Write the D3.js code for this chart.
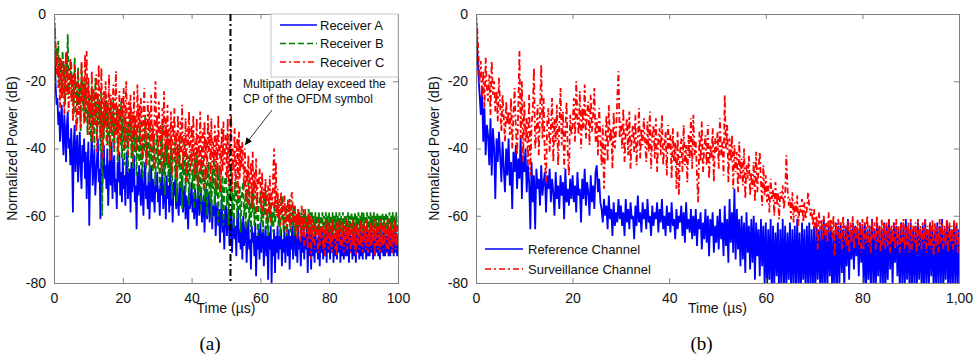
<!DOCTYPE html>
<html><head><meta charset="utf-8">
<script src="https://cdn.jsdelivr.net/npm/d3@7"></script>
<style>
html,body{margin:0;padding:0;background:#fff;}
svg{display:block;font-family:"Liberation Sans",Arial,sans-serif;}
</style></head>
<body><svg id="chart" width="975" height="354"></svg>
<script>
// ---------- DATA (sampled every 0.25 µs, 0..100 µs) ----------
const timeStep = 0.25;
const xTicks = [0, 20, 40, 60, 80, 100];
const yTicks = [0, -20, -40, -60, -80];
const xTickLabelsA = ["0", "20", "40", "60", "80", "100"];
const xTickLabelsB = ["0", "20", "40", "60", "80", "1,00"];
const cpLimit = 51.3;

const receiverA = [
 0,-14,-22,-27,-25,-33,-29,-38,-31,-27,-36,-42,-30,-35,-44,-33,-29,-40,-37,-45,
 -34,-42,-59,-38,-33,-47,-40,-36,-50,-43,-35,-46,-52,-39,-44,-37,-49,-41,-55,-45,
 -38,-63,-47,-42,-36,-51,-45,-40,-54,-48,-43,-37,-50,-46,-61,-41,-53,-44,-39,-49,
 -45,-52,-40,-57,-47,-43,-51,-38,-55,-46,-42,-53,-49,-58,-44,-50,-41,-54,-47,-56,
 -43,-52,-48,-57,-45,-41,-55,-50,-46,-59,-44,-53,-49,-42,-56,-51,-64,-47,-54,-45,
 -50,-57,-46,-53,-60,-48,-44,-55,-51,-58,-47,-61,-52,-45,-56,-49,-54,-59,-48,-53,
 -47,-56,-52,-60,-49,-54,-46,-58,-53,-50,-61,-48,-55,-51,-59,-47,-57,-53,-62,-50,
 -54,-49,-58,-52,-56,-60,-50,-57,-53,-48,-59,-55,-51,-61,-54,-57,-64,-52,-58,-55,
 -50,-59,-54,-61,-52,-57,-63,-55,-51,-60,-56,-53,-62,-58,-54,-65,-57,-52,-61,-56,
 -53,-62,-58,-55,-64,-57,-60,-54,-66,-59,-56,-63,-58,-68,-60,-55,-65,-61,-70,-58,
 -57,-66,-61,-58,-69,-62,-59,-71,-64,-60,-67,-63,-72,-61,-58,-68,-64,-70,-62,-73,
 -60,-69,-65,-62,-74,-66,-61,-70,-67,-76,-63,-68,-65,-72,-62,-78,-66,-70,-64,-73,
 -62,-71,-67,-64,-75,-68,-63,-72,-66,-79,-65,-70,-63,-80,-67,-72,-64,-77,-66,-71,
 -63,-73,-66,-70,-64,-75,-67,-71,-63,-74,-68,-65,-72,-64,-76,-66,-70,-63,-73,-67,
 -64,-72,-66,-74,-63,-70,-67,-75,-64,-71,-65,-73,-66,-70,-63,-77,-65,-72,-64,-76,
 -63,-72,-66,-74,-64,-71,-67,-73,-63,-75,-65,-71,-64,-73,-66,-72,-63,-74,-65,-71,
 -64,-73,-65,-71,-63,-74,-66,-72,-64,-73,-65,-71,-63,-74,-66,-72,-64,-73,-65,-72,
 -63,-72,-65,-74,-64,-71,-66,-73,-63,-72,-65,-74,-64,-71,-66,-73,-63,-72,-65,-73,
 -64,-71,-65,-73,-63,-72,-66,-72,-64,-71,-65,-73,-64,-72,-66,-71,-63,-72,-65,-73,
 -64,-71,-65,-72,-64,-72,-66,-71,-64,-72,-65,-72,-63,-71,-65,-72,-64,-71,-65,-72,
 -66];
const receiverB = [
 0,-6,-14,-10,-18,-8,-22,-13,-17,-25,-11,-20,-15,-27,-12,-19,-6,-24,-16,-21,
 -14,-26,-18,-30,-13,-23,-20,-33,-16,-27,-21,-35,-15,-25,-29,-19,-32,-22,-28,-36,
 -20,-31,-25,-38,-22,-34,-28,-40,-19,-30,-36,-24,-33,-27,-41,-23,-60,-29,-37,-26,
 -32,-24,-39,-29,-35,-42,-27,-33,-38,-25,-41,-31,-36,-28,-44,-34,-30,-39,-26,-43,
 -31,-37,-45,-29,-40,-34,-47,-32,-38,-28,-43,-36,-46,-30,-41,-35,-48,-33,-39,-44,
 -32,-45,-37,-49,-34,-41,-30,-46,-38,-43,-35,-50,-33,-44,-39,-47,-36,-42,-51,-37,
 -35,-46,-40,-52,-37,-43,-33,-48,-41,-54,-38,-45,-36,-50,-42,-47,-39,-55,-44,-40,
 -38,-49,-43,-56,-40,-46,-37,-52,-44,-58,-41,-48,-39,-53,-45,-50,-42,-57,-47,-43,
 -41,-52,-46,-58,-43,-49,-40,-55,-47,-53,-44,-59,-42,-50,-48,-56,-45,-51,-60,-46,
 -44,-55,-49,-61,-46,-52,-43,-57,-50,-54,-47,-62,-45,-53,-51,-58,-48,-63,-52,-49,
 -47,-57,-52,-63,-49,-55,-46,-60,-53,-64,-50,-56,-48,-61,-54,-58,-51,-65,-55,-52,
 -50,-60,-55,-64,-52,-58,-49,-62,-56,-65,-53,-59,-51,-63,-57,-61,-54,-66,-58,-55,
 -53,-62,-57,-65,-54,-60,-52,-64,-58,-66,-55,-61,-53,-63,-59,-65,-56,-62,-60,-57,
 -55,-63,-59,-66,-56,-61,-54,-65,-60,-64,-57,-66,-58,-62,-55,-65,-59,-63,-57,-66,
 -57,-64,-60,-66,-58,-63,-59,-65,-60,-64,-58,-66,-59,-63,-60,-65,-58,-64,-59,-66,
 -59,-65,-60,-66,-59,-64,-60,-65,-59,-66,-60,-64,-59,-65,-60,-66,-59,-64,-60,-65,
 -59,-65,-60,-66,-59,-64,-60,-65,-59,-66,-60,-64,-59,-65,-60,-66,-59,-64,-60,-65,
 -60,-65,-59,-66,-60,-64,-59,-65,-60,-66,-59,-64,-60,-65,-59,-66,-60,-64,-59,-65,
 -59,-66,-60,-64,-59,-65,-60,-66,-59,-64,-60,-65,-59,-66,-60,-64,-59,-65,-60,-66,
 -60,-64,-59,-65,-60,-66,-59,-64,-60,-65,-59,-66,-60,-64,-59,-65,-60,-66,-59,-65,
 -62];
const receiverC = [
 0,-4,-10,-18,-12,-22,-15,-28,-13,-20,-25,-14,-30,-18,-11,-24,-16,-29,-21,-13,
 -26,-18,-32,-22,-15,-28,-35,-20,-17,-30,-24,-34,-14,-26,-21,-33,-12,-27,-11,-31,
 -19,-36,-24,-30,-17,-38,-22,-28,-33,-18,-41,-25,-15,-31,-37,-16,-29,-43,-23,-34,
 -20,-39,-26,-32,-18,-44,-24,-35,-28,-21,-40,-30,-17,-36,-27,-42,-23,-33,-38,-25,
 -31,-22,-40,-28,-20,-35,-42,-26,-33,-24,-38,-29,-44,-23,-36,-30,-41,-21,-34,-27,
 -39,-25,-32,-43,-28,-22,-37,-31,-45,-26,-35,-29,-41,-24,-38,-33,-46,-27,-20,-36,
 -30,-42,-26,-38,-33,-47,-28,-36,-23,-44,-31,-39,-27,-45,-34,-40,-29,-48,-32,-37,
 -28,-43,-35,-49,-30,-38,-45,-32,-41,-27,-46,-36,-42,-31,-50,-34,-39,-29,-47,-37,
 -33,-44,-30,-48,-38,-42,-31,-51,-36,-45,-29,-47,-40,-34,-52,-32,-43,-37,-49,-30,
 -41,-35,-50,-31,-46,-38,-44,-33,-52,-36,-48,-30,-42,-39,-53,-34,-47,-32,-45,-40,
 -36,-49,-31,-51,-38,-44,-30,-53,-40,-47,-34,-52,-42,-37,-55,-35,-49,-39,-46,-38,
 -44,-52,-40,-56,-46,-50,-42,-57,-48,-44,-58,-41,-53,-47,-55,-43,-59,-49,-51,-46,
 -50,-58,-47,-60,-52,-55,-49,-61,-54,-51,-59,-48,-62,-53,-57,-46,-40,-58,-44,-60,
 -52,-61,-55,-63,-53,-59,-56,-64,-54,-60,-57,-65,-55,-62,-58,-64,-54,-53,-61,-63,
 -57,-65,-59,-67,-58,-63,-60,-68,-57,-66,-61,-69,-58,-64,-62,-70,-59,-67,-60,-73,
 -61,-68,-63,-70,-62,-66,-64,-71,-61,-69,-63,-67,-62,-70,-64,-72,-61,-68,-63,-70,
 -62,-69,-63,-71,-61,-67,-64,-70,-62,-72,-63,-68,-61,-70,-64,-69,-62,-71,-63,-68,
 -61,-70,-63,-68,-62,-71,-64,-69,-61,-70,-63,-72,-62,-68,-64,-70,-61,-69,-63,-71,
 -62,-68,-63,-70,-61,-71,-64,-69,-62,-70,-63,-68,-61,-72,-64,-69,-62,-70,-63,-71,
 -61,-69,-63,-70,-62,-68,-64,-71,-61,-70,-63,-69,-62,-71,-64,-68,-61,-70,-63,-69,
 -65];
const referenceChannel = [
 0,-10,-18,-24,-30,-22,-38,-28,-42,-33,-36,-45,-31,-48,-34,-40,-55,-37,-44,-35,
 -42,-50,-38,-46,-53,-40,-48,-37,-51,-44,-58,-41,-47,-39,-52,-43,-49,-36,-55,-42,
 -47,-40,-53,-45,-50,-64,-44,-56,-48,-64,-46,-52,-49,-57,-45,-54,-50,-47,-59,-48,
 -52,-46,-56,-49,-53,-60,-47,-55,-51,-58,-48,-54,-50,-61,-46,-56,-52,-57,-49,-55,
 -48,-56,-51,-59,-47,-54,-52,-62,-49,-55,-46,-57,-50,-53,-60,-48,-56,-51,-58,-47,
 -45,-53,-49,-56,-58,-62,-55,-60,-57,-64,-54,-61,-58,-66,-56,-63,-59,-62,-55,-61,
 -57,-63,-59,-66,-55,-62,-58,-64,-56,-61,-60,-67,-57,-63,-54,-62,-59,-65,-56,-61,
 -58,-64,-55,-62,-60,-66,-57,-63,-59,-61,-56,-65,-58,-62,-55,-64,-60,-66,-57,-63,
 -59,-65,-56,-63,-61,-67,-58,-64,-60,-62,-57,-66,-59,-68,-56,-64,-61,-65,-58,-67,
 -60,-66,-58,-69,-61,-64,-59,-70,-62,-67,-58,-68,-60,-72,-61,-66,-59,-71,-63,-68,
 -60,-70,-58,-67,-62,-72,-57,-69,-61,-74,-55,-68,-59,-71,-52,-73,-58,-70,-61,-75,
 -60,-73,-62,-77,-59,-71,-63,-76,-61,-74,-60,-79,-62,-72,-64,-78,-61,-75,-63,-80,
 -62,-83,-64,-79,-61,-84,-63,-81,-65,-78,-62,-85,-64,-80,-61,-83,-63,-82,-65,-79,
 -62,-84,-64,-80,-63,-83,-61,-81,-65,-85,-62,-79,-64,-84,-63,-80,-62,-83,-64,-81,
 -63,-84,-62,-79,-64,-82,-63,-85,-61,-80,-64,-83,-62,-78,-63,-84,-65,-81,-62,-83,
 -63,-80,-62,-77,-64,-82,-63,-75,-61,-79,-64,-73,-62,-76,-63,-72,-64,-78,-62,-74,
 -63,-81,-62,-84,-64,-79,-63,-83,-61,-80,-64,-85,-62,-78,-63,-82,-64,-80,-62,-84,
 -63,-79,-61,-76,-64,-81,-62,-74,-63,-78,-64,-83,-62,-80,-63,-84,-61,-79,-64,-82,
 -62,-83,-64,-80,-63,-84,-62,-79,-64,-82,-63,-85,-61,-80,-64,-83,-62,-78,-63,-84,
 -64,-81,-62,-83,-63,-80,-61,-84,-64,-79,-62,-82,-63,-85,-64,-80,-62,-83,-63,-81,
 -64];
const surveillanceChannel = [
 0,-4,-12,-20,-14,-25,-17,-28,-13,-22,-26,-18,-30,-14,-24,-20,-29,-23,-32,-19,
 -27,-35,-24,-31,-38,-26,-33,-29,-36,-25,-40,-30,-22,-34,-42,-28,-11,-37,-20,-44,
 -26,-38,-31,-45,-24,-48,-33,-29,-16,-40,-35,-27,-42,-30,-15,-37,-25,-43,-50,-32,
 -28,-41,-34,-25,-44,-31,-38,-27,-45,-33,-22,-39,-29,-46,-35,-26,-42,-48,-30,-36,
 -33,-25,-38,-20,-31,-36,-23,-40,-28,-34,-21,-37,-29,-26,-39,-24,-35,-30,-22,-38,
 -31,-42,-28,-36,-45,-33,-52,-39,-30,-44,-27,-38,-34,-46,-29,-40,-35,-25,-17,-37,
 -32,-40,-28,-44,-35,-31,-42,-29,-46,-36,-33,-41,-30,-45,-37,-28,-43,-34,-39,-31,
 -38,-44,-32,-41,-29,-46,-36,-33,-43,-31,-47,-37,-34,-42,-30,-45,-39,-35,-48,-33,
 -40,-36,-49,-34,-44,-38,-52,-35,-54,-41,-37,-47,-33,-45,-39,-50,-36,-43,-31,-46,
 -30,-42,-38,-48,-56,-35,-44,-32,-47,-40,-36,-45,-33,-49,-39,-43,-34,-50,-37,-41,
 -35,-46,-31,-42,-38,-48,-24,-40,-33,-50,-37,-44,-36,-52,-39,-47,-41,-53,-38,-49,
 -43,-51,-40,-55,-45,-49,-42,-54,-47,-52,-44,-56,-41,-53,-46,-41,-50,-57,-45,-54,
 -48,-56,-51,-59,-49,-55,-52,-60,-50,-57,-53,-61,-53,-55,-51,-58,-54,-42,-52,-57,
 -55,-61,-53,-62,-56,-60,-54,-63,-57,-59,-55,-62,-56,-61,-58,-53,-57,-60,-58,-63,
 -58,-65,-60,-70,-59,-64,-61,-67,-60,-66,-62,-68,-59,-65,-61,-67,-60,-72,-62,-66,
 -61,-68,-62,-70,-60,-67,-63,-69,-61,-71,-62,-68,-60,-70,-63,-67,-61,-69,-62,-71,
 -61,-70,-62,-68,-60,-69,-63,-71,-61,-67,-62,-70,-60,-68,-63,-71,-61,-69,-62,-70,
 -62,-69,-61,-71,-63,-68,-62,-70,-61,-69,-63,-71,-62,-68,-61,-70,-63,-69,-62,-71,
 -61,-70,-63,-68,-62,-71,-61,-69,-63,-70,-62,-68,-61,-71,-63,-69,-62,-70,-61,-72,
 -62,-69,-63,-71,-61,-68,-62,-70,-63,-69,-61,-71,-62,-68,-63,-70,-61,-69,-62,-71,
 -64];

const seriesA = [
  {name: "Receiver A", values: receiverA},
  {name: "Receiver B", values: receiverB},
  {name: "Receiver C", values: receiverC}
];
const seriesB = [
  {name: "Reference Channel", values: referenceChannel},
  {name: "Surveillance Channel", values: surveillanceChannel}
];

// ---------- STYLES ----------
const styles = {
  "Receiver A": {color: "#0000ff", dash: null},
  "Receiver B": {color: "#008000", dash: "6,3"},
  "Receiver C": {color: "#ff0000", dash: "6,3,2,3"},
  "Reference Channel": {color: "#0000ff", dash: null},
  "Surveillance Channel": {color: "#ff0000", dash: "6,3,2,3"}
};

const svg = d3.select("#chart");
const axisColor = "#7f7f7f";

function panel(id, left, right, top, bottom, series, tickLabels, tag) {
  const x = d3.scaleLinear().domain([0, 100]).range([left, right]);
  const y = d3.scaleLinear().domain([-80, 0]).range([bottom, top]);
  const g = svg.append("g");

  g.append("clipPath").attr("id", "clip" + id)
    .append("rect").attr("x", left).attr("y", top)
    .attr("width", right - left).attr("height", bottom - top);

  const line = d3.line()
    .x((d, i) => x(i * timeStep))
    .y(d => y(d));

  const plot = g.append("g").attr("clip-path", `url(#clip${id})`);
  series.forEach(s => {
    const st = styles[s.name];
    plot.append("path")
      .attr("d", line(s.values))
      .attr("fill", "none")
      .attr("stroke", st.color)
      .attr("stroke-width", 1.8)
      .attr("stroke-dasharray", st.dash)
      .attr("stroke-linejoin", "bevel");
  });

  // axes (MATLAB style: inward ticks on all sides)
  const fmt = (d, i) => tickLabels[i];
  const bottomAxis = d3.axisBottom(x).tickValues(xTicks).tickSize(-5).tickPadding(9).tickFormat(fmt);
  const topAxis = d3.axisTop(x).tickValues(xTicks).tickSize(-5).tickFormat("");
  const leftAxis = d3.axisLeft(y).tickValues(yTicks).tickSize(-5).tickPadding(8).tickFormat(d3.format("d"));
  const rightAxis = d3.axisRight(y).tickValues(yTicks).tickSize(-5).tickFormat("");

  const ax = [
    g.append("g").attr("transform", `translate(0,${bottom})`).call(bottomAxis),
    g.append("g").attr("transform", `translate(0,${top})`).call(topAxis),
    g.append("g").attr("transform", `translate(${left},0)`).call(leftAxis),
    g.append("g").attr("transform", `translate(${right},0)`).call(rightAxis)
  ];
  ax.forEach(a => {
    a.select(".domain").attr("stroke", axisColor).attr("stroke-width", 1);
    a.selectAll(".tick line").attr("stroke", axisColor);
    a.selectAll(".tick text").attr("fill", "#111").style("font-size", "14px")
      .style("font-family", '"Liberation Sans", Arial, sans-serif');
  });
  ax[0].selectAll(".tick text").attr("dy", "0.75em");
  ax[2].selectAll(".tick text").text(d => d === 0 ? "0" : String(d).replace("\u2212", "-"));

  // axis labels
  g.append("text")
    .attr("x", (left + right) / 2).attr("y", 313)
    .attr("text-anchor", "middle").attr("font-size", 14).attr("fill", "#111")
    .text("Time (\u00b5s)");
  g.append("text")
    .attr("transform", `translate(${left - 37},${(top + bottom) / 2}) rotate(-90)`)
    .attr("text-anchor", "middle").attr("font-size", 14).attr("fill", "#111")
    .text("Normalized Power (dB)");
  g.append("text")
    .attr("x", (left + right) / 2 - 16).attr("y", 350)
    .attr("text-anchor", "middle").attr("font-size", 19)
    .attr("font-family", '"Liberation Serif", "Times New Roman", serif')
    .text(tag);
  return {g, x, y};
}

// Panel (a)
const pa = panel("a", 54, 398, 14, 283, seriesA, xTickLabelsA, "(a)");
pa.g.append("line")
  .attr("x1", pa.x(cpLimit)).attr("x2", pa.x(cpLimit))
  .attr("y1", pa.y(0)).attr("y2", pa.y(-80))
  .attr("stroke", "#000").attr("stroke-width", 2)
  .attr("stroke-dasharray", "7,3,2,3");

// legend (a)
const legA = pa.g.append("g");
legA.append("rect").attr("x", 271).attr("y", 14).attr("width", 127).attr("height", 63)
  .attr("fill", "#fff").attr("stroke", "#c8c8c8").attr("stroke-width", 1);
seriesA.forEach((s, i) => {
  const st = styles[s.name];
  const yy = 25 + i * 18.5;
  legA.append("line").attr("x1", 280).attr("x2", 317).attr("y1", yy).attr("y2", yy)
    .attr("stroke", st.color).attr("stroke-width", 1.5).attr("stroke-dasharray", st.dash);
  legA.append("text").attr("x", 320).attr("y", yy + 4.5).attr("font-size", 13)
    .attr("fill", "#111").text(s.name);
});

// annotation
pa.g.append("text").attr("x", 243).attr("y", 88).attr("font-size", 12).attr("fill", "#111")
  .text("Multipath delay exceed the");
pa.g.append("text").attr("x", 243).attr("y", 103).attr("font-size", 12).attr("fill", "#111")
  .text("CP of the OFDM symbol");
svg.append("defs").append("marker").attr("id", "arrow")
  .attr("viewBox", "0 0 10 10").attr("refX", 10).attr("refY", 5)
  .attr("markerWidth", 9).attr("markerHeight", 7).attr("orient", "auto")
  .append("path").attr("d", "M0,0 L10,5 L0,10 z").attr("fill", "#000");
pa.g.append("line").attr("x1", 272).attr("y1", 110).attr("x2", 245).attr("y2", 145)
  .attr("stroke", "#333").attr("stroke-width", 1).attr("marker-end", "url(#arrow)");

// Panel (b)
const pb = panel("b", 476, 959, 14, 283, seriesB, xTickLabelsB, "(b)");
const legB = pb.g.append("g");
seriesB.forEach((s, i) => {
  const st = styles[s.name];
  const yy = 249 + i * 20;
  legB.append("line").attr("x1", 485).attr("x2", 523).attr("y1", yy).attr("y2", yy)
    .attr("stroke", st.color).attr("stroke-width", 1.5).attr("stroke-dasharray", st.dash);
  legB.append("text").attr("x", 528).attr("y", yy + 4.5).attr("font-size", 13)
    .attr("fill", "#111").text(s.name);
});
</script></body></html>
